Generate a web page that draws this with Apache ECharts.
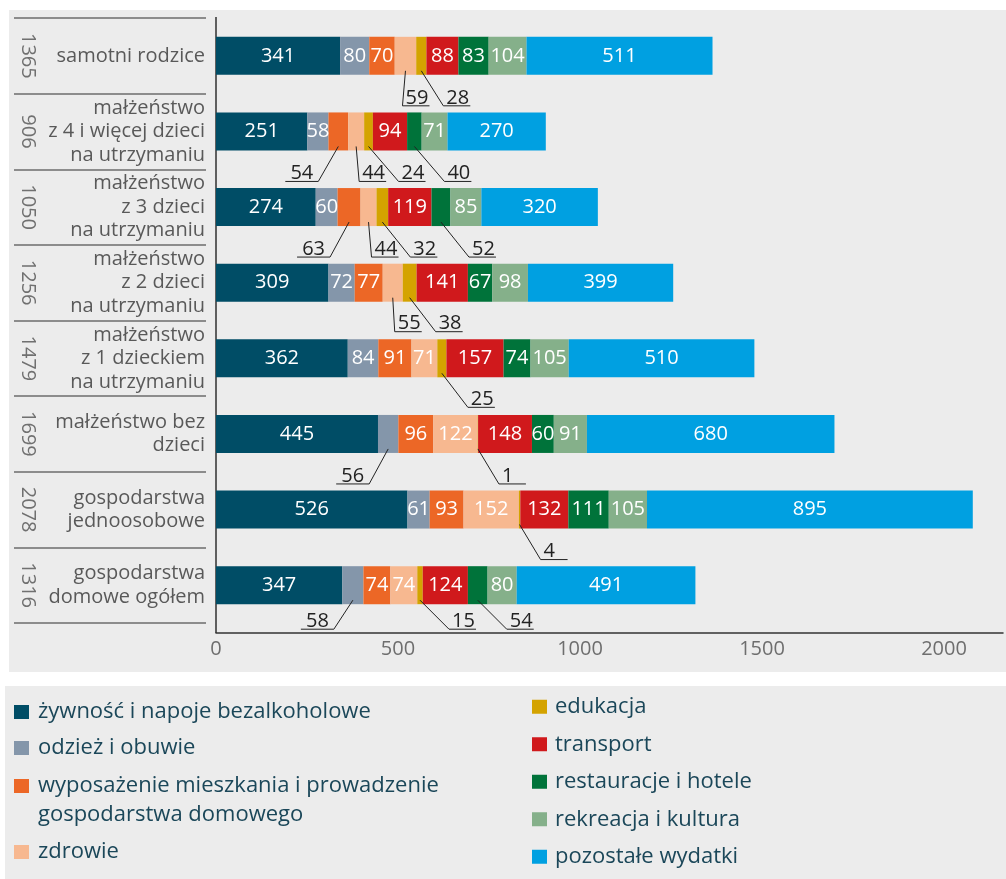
<!DOCTYPE html>
<html>
<head>
<meta charset="utf-8">
<script src="https://cdn.jsdelivr.net/npm/echarts@6/dist/echarts.min.js"></script>
<style>
    html, body { margin: 0; padding: 0; background: #fff; }
    #wrap { position: relative; width: 1006px; height: 879px; }
    .panel { position: absolute; background: #ececec; }
    #chart { position: absolute; left: 0; top: 0; width: 1006px; height: 879px; }
</style>
</head>
<body>
<div id="wrap">
    <div class="panel" style="left:9px;top:10px;width:997px;height:662px"></div>
    <div class="panel" style="left:5px;top:686px;width:1001px;height:193px"></div>
    <div id="chart"></div>
</div>
<script>
    var categories = [
        'samotni rodzice',
        'małżeństwo\nz 4 i więcej dzieci\nna utrzymaniu',
        'małżeństwo\nz 3 dzieci\nna utrzymaniu',
        'małżeństwo\nz 2 dzieci\nna utrzymaniu',
        'małżeństwo\nz 1 dzieckiem\nna utrzymaniu',
        'małżeństwo bez\ndzieci',
        'gospodarstwa\njednoosobowe',
        'gospodarstwa\ndomowe ogółem'
    ];
    var totals = [1365, 906, 1050, 1256, 1479, 1699, 2078, 1316];

    var seriesNames = [
        'żywność i napoje bezalkoholowe',
        'odzież i obuwie',
        'wyposażenie mieszkania i prowadzenie\ngospodarstwa domowego',
        'zdrowie',
        'edukacja',
        'transport',
        'restauracje i hotele',
        'rekreacja i kultura',
        'pozostałe wydatki'
    ];

    var zywnosc = [341, 251, 274, 309, 362, 445, 526, 347];
    var odziez = [80, 58, 60, 72, 84, 56, 61, 58];
    var wyposazenie = [70, 54, 63, 77, 91, 96, 93, 74];
    var zdrowie = [59, 44, 44, 55, 71, 122, 152, 74];
    var edukacja = [28, 24, 32, 38, 25, 1, 4, 15];
    var transport = [88, 94, 119, 141, 157, 148, 132, 124];
    var restauracje = [83, 40, 52, 67, 74, 60, 111, 54];
    var rekreacja = [104, 71, 85, 98, 105, 91, 105, 80];
    var pozostale = [511, 270, 320, 399, 510, 680, 895, 491];

    var seriesValues = [zywnosc, odziez, wyposazenie, zdrowie, edukacja, transport, restauracje, rekreacja, pozostale];
    var colors = ['#004d66', '#8496aa', '#ec6726', '#f7b890', '#d4a300', '#d0191c', '#00733a', '#85b08a', '#00a0e1'];

    // etykiety wyniesione pod słupek: [seria, kategoria, dx, dy, strona]
    var callouts = [
        [3, 0, -3, 35, 1], [4, 0, 22, 35, 1],
        [2, 1, -20, 35, -1], [3, 1, 3, 35, 1], [4, 1, 30, 35, 1], [6, 1, 30, 35, 1],
        [2, 2, -19, 35, -1], [3, 2, 3, 35, 1], [4, 2, 28, 35, 1], [6, 2, 28, 35, 1],
        [3, 3, 2, 34, 1], [4, 3, 26, 34, 1],
        [4, 4, 26, 34, 1],
        [1, 5, -19, 35, -1], [4, 5, 21, 35, 1],
        [4, 6, 21, 35, 1],
        [1, 7, -19, 29, -1], [4, 7, 29, 29, 1], [6, 7, 29, 29, 1]
    ];

    var GRID = {left: 216, top: 18, width: 787, height: 605};
    var X_OFFSET = 10;
    var FONT = '"Open Sans", sans-serif';

    function isCallout(s, c) {
        for (var i = 0; i < callouts.length; i++) {
            if (callouts[i][0] === s && callouts[i][1] === c) return true;
        }
        return false;
    }

    var series = seriesNames.map(function (name, s) {
        return {
            name: name,
            type: 'bar',
            stack: 'total',
            yAxisIndex: 0,
            barWidth: 38,
            itemStyle: {color: colors[s]},
            label: {show: true, position: 'inside', color: '#fff', fontSize: 20, fontFamily: FONT},
            data: seriesValues[s].map(function (v, c) {
                return isCallout(s, c) ? {value: v, label: {show: false}} : v;
            })
        };
    });

    var calloutData = callouts.map(function (co) {
        var s = co[0], c = co[1];
        var start = 0;
        for (var k = 0; k < s; k++) start += seriesValues[k][c];
        return [c, start, start + seriesValues[s][c], co[2], co[3], co[4], seriesValues[s][c]];
    });

    function renderCallout(params, api) {
        var cat = api.value(0);
        var mid = api.coord([(api.value(1) + api.value(2)) / 2, cat]);
        var x0 = mid[0], y0 = mid[1] + 15;
        var x1 = x0 + api.value(3), y1 = y0 + api.value(4);
        var side = api.value(5);
        var x2 = x1 + side * (side > 0 ? 27 : 33);
        return {
            type: 'group',
            children: [{
                type: 'polyline',
                shape: {points: [[x0, y0], [x1, y1], [x2, y1]]},
                style: {stroke: '#222', lineWidth: 1, fill: null}
            }, {
                type: 'text',
                style: {
                    text: String(api.value(6)),
                    x: side > 0 ? x1 + 3 : x1 - 5,
                    y: y1 + 2,
                    align: side > 0 ? 'left' : 'right',
                    verticalAlign: 'bottom',
                    font: '20px ' + FONT,
                    fill: '#222'
                }
            }]
        };
    }

    series.push({
        type: 'custom',
        xAxisIndex: 0,
        yAxisIndex: 0,
        renderItem: renderCallout,
        encode: {x: [1, 2], y: 0},
        data: calloutData,
        clip: false,
        silent: true,
        z: 5
    });

    var legendBase = {
        orient: 'vertical',
        icon: 'rect',
        itemWidth: 15,
        itemHeight: 14,
        itemGap: 0,
        padding: 0,
        selectedMode: false,
        textStyle: {fontSize: 22, fontFamily: FONT, color: '#1b4759', lineHeight: 36, padding: [0, 0, 0, 4]}
    };

    function legendAt(left, top, names, textStyle, formatter) {
        var l = Object.assign({}, legendBase, {left: left, top: top, data: names});
        l.textStyle = Object.assign({}, legendBase.textStyle, textStyle || {});
        if (formatter) l.formatter = formatter;
        return l;
    }

    var chart = echarts.init(document.getElementById('chart'));
    var option = {
        animation: false,
        textStyle: {fontFamily: FONT},
        grid: {left: GRID.left, top: GRID.top, width: GRID.width, height: GRID.height, containLabel: false},
        xAxis: {
            type: 'value',
            min: 0,
            max: 2162,
            interval: 500,
            offset: X_OFFSET,
            axisLine: {show: true, lineStyle: {color: '#333', width: 1.5}},
            axisTick: {show: false},
            splitLine: {show: false},
            axisLabel: {
                color: '#6e6e6e', fontSize: 20, margin: 6, showMaxLabel: false,
                formatter: function (v) { return v % 500 === 0 ? String(v) : ''; }
            }
        },
        yAxis: [{
            type: 'category',
            inverse: true,
            position: 'left',
            data: categories,
            axisLine: {show: false},
            axisTick: {show: false},
            axisLabel: {interval: 0, fontSize: 20, lineHeight: 23.5, color: '#595959', margin: 11, align: 'right'}
        }, {
            type: 'category',
            inverse: true,
            position: 'left',
            offset: 10,
            data: totals.map(String),
            axisLine: {show: false},
            axisTick: {show: true, interval: 0, length: 192, lineStyle: {color: '#8c8c8c', width: 2}},
            axisLabel: {interval: 0, rotate: -90, margin: 178, fontSize: 20, color: '#707070', align: 'center', verticalAlign: 'middle'}
        }],
        legend: [
            legendAt(14, 694, [seriesNames[0], seriesNames[1]]),
            // pusty pierwszy wiersz, żeby kwadracik stał przy pierwszej linii tekstu
            legendAt(14, 742.5, [seriesNames[2]], {lineHeight: 29}, function (name) { return '\n' + name; }),
            legendAt(14, 834, [seriesNames[3]]),
            legendAt(532, 688, seriesNames.slice(4), {lineHeight: 37.5, padding: [0, 0, 0, 3]})
        ],
        graphic: [{
            type: 'line',
            shape: {x1: GRID.left, y1: GRID.top - 1, x2: GRID.left, y2: GRID.top + GRID.height + X_OFFSET},
            style: {stroke: '#5f5f5f', lineWidth: 2}
        }],
        series: series
    };

    chart.setOption(option);
    window.addEventListener("resize", function () {
        chart.resize();
    });
</script>
</body>
</html>
